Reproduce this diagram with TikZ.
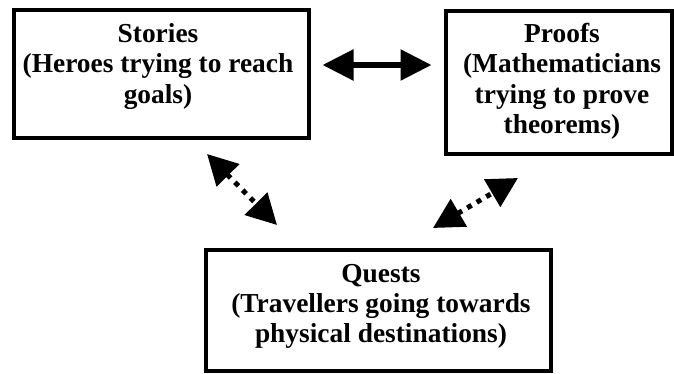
\documentclass[tikz,border=0pt]{standalone}
\usepackage{fontspec}
\setmainfont{Liberation Serif}
\usetikzlibrary{arrows.meta}
\begin{document}
\begin{tikzpicture}[x=1pt,y=1pt,
  box/.style={draw=black, line width=4pt, rectangle, inner sep=0pt, fill=white},
  label/.style={inner sep=0pt, anchor=base, font=\bfseries\fontsize{27.4}{30}\selectfont},
  solidarrow/.style={line width=5.5pt, {Triangle[length=31pt,width=30pt]}-{Triangle[length=31pt,width=30pt]}},
  dotarrow/.style={line width=5pt, dash pattern=on 5pt off 6pt, {Triangle[length=30pt,width=31pt]}-{Triangle[length=30pt,width=31pt]}}
]
\useasboundingbox (0,0) rectangle (674,373);
% boxes
\node[box, minimum width=295pt, minimum height=128pt] (stories) at (161.5,299) {};
\node[box, minimum width=226pt, minimum height=143pt] (proofs) at (559,290.5) {};
\node[box, minimum width=345pt, minimum height=121pt] (quests) at (378.5,62.5) {};
% texts
\node[label] (storiestext) at (158,330) {\parbox[t]{290pt}{\centering Stories\\(Heroes trying to reach\\goals)}};
\node[label] (proofstext) at (562,330) {\parbox[t]{222pt}{\centering Proofs\\(Mathematicians\\trying to prove\\theorems)}};
\node[label] (queststext) at (381,91) {\parbox[t]{340pt}{\centering Quests\\(Travellers going towards\\physical destinations)}};
% connector end points
\coordinate (h1) at (322.5,308);
\coordinate (h2) at (431.5,308);
\coordinate (d1a) at (207,219);
\coordinate (d1b) at (277,148);
\coordinate (d2a) at (433,145);
\coordinate (d2b) at (518,195);
% connectors
\draw[solidarrow] (h1) -- (h2);
\draw[dotarrow] (d1a) -- (d1b);
\draw[dotarrow] (d2a) -- (d2b);
\end{tikzpicture}
\end{document}
